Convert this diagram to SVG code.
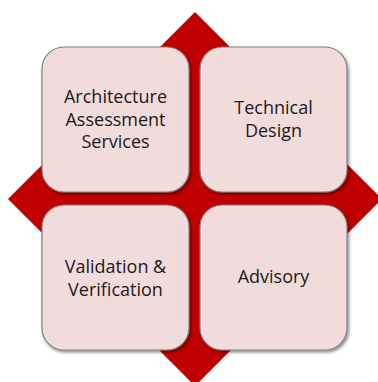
<svg xmlns="http://www.w3.org/2000/svg" width="378" height="382" viewBox="0 0 378 382">
<style>
.box{fill:#f2dcdb;stroke:#7f7f7f;stroke-width:1.2;filter:url(#sh)}
.t{font-family:"Open Sans","Noto Sans",sans-serif;font-size:18px;fill:#1a1a1a;text-anchor:middle}
</style>
<defs>
<filter id="sh" x="-10%" y="-10%" width="125%" height="125%">
<feDropShadow dx="1.5" dy="2" stdDeviation="1.5" flood-color="#000" flood-opacity="0.45"/>
</filter>
</defs>
<polygon points="195,12 382,199 195,386 8,199" fill="#c00000"/>
<g id="n1"><rect class="box" x="42" y="47" width="147" height="145" rx="22"/>
<text class="t" x="115.5" y="103">Architecture</text><text class="t" x="115.5" y="126">Assessment</text><text class="t" x="115.5" y="148">Services</text></g>
<g id="n2"><rect class="box" x="200" y="47" width="147" height="145" rx="22"/>
<text class="t" x="273.5" y="114">Technical</text><text class="t" x="273.5" y="137">Design</text></g>
<g id="n3"><rect class="box" x="42" y="205" width="147" height="145" rx="22"/>
<text class="t" x="115.5" y="273">Validation &amp;</text><text class="t" x="115.5" y="296">Verification</text></g>
<g id="n4"><rect class="box" x="200" y="205" width="147" height="145" rx="22"/>
<text class="t" x="273.5" y="283">Advisory</text></g>
<g id="connectors"/>
</svg>
